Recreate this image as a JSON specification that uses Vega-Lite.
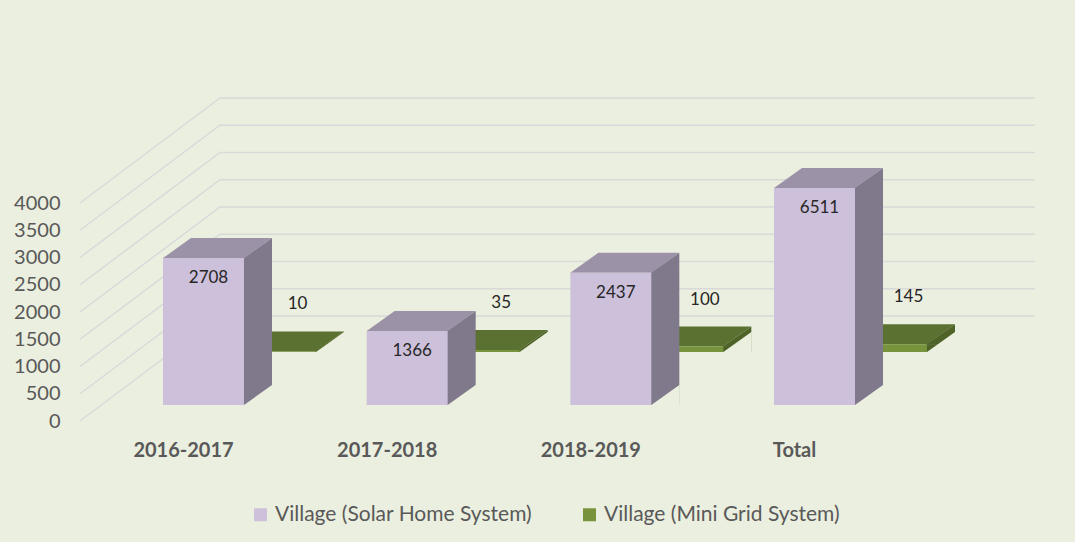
{
  "$schema": "https://vega.github.io/schema/vega-lite/v6.json",
  "width": 1075,
  "height": 542,
  "autosize": "none",
  "padding": 0,
  "background": "#EBEFDF",
  "config": {"view": {"stroke": null}, "font": "Lato"},
  "datasets": {
    "bars": [
      {"period": "2016-2017", "series": "Village (Solar Home System)", "value": 2708},
      {"period": "2017-2018", "series": "Village (Solar Home System)", "value": 1366},
      {"period": "2018-2019", "series": "Village (Solar Home System)", "value": 2437},
      {"period": "Total", "series": "Village (Solar Home System)", "value": 6511},
      {"period": "2016-2017", "series": "Village (Mini Grid System)", "value": 10},
      {"period": "2017-2018", "series": "Village (Mini Grid System)", "value": 35},
      {"period": "2018-2019", "series": "Village (Mini Grid System)", "value": 100},
      {"period": "Total", "series": "Village (Mini Grid System)", "value": 145}
    ],
    "ticks": [
      {"tick": 0}, {"tick": 500}, {"tick": 1000}, {"tick": 1500}, {"tick": 2000},
      {"tick": 2500}, {"tick": 3000}, {"tick": 3500}, {"tick": 4000}
    ]
  },
  "layer": [
    {
      "data": {"name": "ticks"},
      "mark": {"type": "point", "shape": "M-457.5,0L-317.5,-105L497.5,-105", "size": 4, "filled": false, "stroke": "#D9D9D9", "strokeWidth": 1.5, "opacity": 1},
      "encoding": {
        "y": {
          "field": "tick", "type": "quantitative",
          "scale": {"domain": [0, 4000], "range": [421, 203], "nice": false, "zero": false},
          "axis": {
            "values": [0, 500, 1000, 1500, 2000, 2500, 3000, 3500, 4000], "format": "d",
            "orient": "left", "offset": -60, "ticks": false, "tickSize": 0, "domain": false, "grid": false,
            "labelPadding": 0, "labelFont": "Lato", "labelFontSize": 20, "labelColor": "#595959", "title": null
          }
        }
      }
    },
    {
      "data": {"name": "bars"},
      "transform": [{"filter": "datum.series === 'Village (Mini Grid System)'"}],
      "encoding": {
        "x": {
          "field": "period", "type": "nominal",
          "sort": ["2016-2017", "2017-2018", "2018-2019", "Total"],
          "scale": {"type": "band", "paddingInner": 0.6024, "paddingOuter": 0.9403, "align": 0.4256},
          "axis": {
            "orient": "bottom", "offset": -92, "ticks": false, "domain": false, "grid": false, "title": null,
            "labelAngle": 0, "labelPadding": 0, "labelBaseline": "middle", "labelOffset": -20,
            "labelFont": "Lato", "labelFontSize": 20, "labelFontWeight": "bold", "labelColor": "#595959"
          }
        }
      },
      "layer": [
        {
          "mark": {"type": "bar", "width": 29, "xOffset": 126, "color": "#4F6228"},
          "encoding": {"y": {"field": "value", "type": "quantitative", "scale": {"domain": [0, 4000], "range": [352, 135], "nice": false}, "axis": null}}
        },
        {
          "mark": {"type": "point", "shape": "M111.5,0.3L140.5,-20L140.5,0.3Z", "size": 4, "filled": true, "opacity": 1, "strokeWidth": 0, "color": "#4F6228"},
          "encoding": {"y": {"field": "value", "type": "quantitative", "scale": {"domain": [0, 4000], "range": [352, 135], "nice": false}, "axis": null}}
        },
        {
          "mark": {"type": "point", "shape": "M112.5,0L140.5,-20L140.8,-20L140.8,1.5L112.5,1.5Z", "size": 4, "filled": true, "opacity": 1, "strokeWidth": 0, "color": "#EBEFDF"},
          "encoding": {"y": {"datum": 0, "type": "quantitative", "scale": {"domain": [0, 4000], "range": [352, 135], "nice": false}, "axis": null}}
        },
        {
          "mark": {"type": "point", "shape": "M31.5,0L112.5,0L140.5,-20L59.5,-20Z", "size": 4, "filled": true, "opacity": 1, "strokeWidth": 0, "color": "#5B7132"},
          "encoding": {"y": {"field": "value", "type": "quantitative", "scale": {"domain": [0, 4000], "range": [352, 135], "nice": false}, "axis": null}}
        },
        {
          "mark": {"type": "bar", "xOffset": 72},
          "encoding": {
            "y": {"field": "value", "type": "quantitative", "scale": {"domain": [0, 4000], "range": [352, 135], "nice": false}, "axis": null},
            "color": {
              "field": "series", "type": "nominal",
              "scale": {"domain": ["Village (Solar Home System)", "Village (Mini Grid System)"], "range": ["#CCC0DA", "#77933C"]},
              "legend": {
                "orient": "none", "legendX": 250, "legendY": 504, "direction": "horizontal", "columns": 2,
                "title": null, "padding": 0, "symbolType": "square", "symbolSize": 169, "symbolStrokeWidth": 0,
                "labelFont": "Lato", "labelFontSize": 21, "labelColor": "#595959", "labelOffset": 4, "columnPadding": 46, "labelLimit": 0
              }
            }
          }
        },
        {
          "mark": {"type": "text", "dx": 94, "dy": -47, "fontSize": 17, "font": "Lato", "color": "#262626", "baseline": "middle"},
          "encoding": {
            "y": {"field": "value", "type": "quantitative", "scale": {"domain": [0, 4000], "range": [352, 135], "nice": false}, "axis": null},
            "text": {"field": "value", "type": "quantitative", "format": "d"}
          }
        }
      ]
    },
    {
      "data": {"name": "bars"},
      "transform": [{"filter": "datum.series === 'Village (Solar Home System)'"}],
      "encoding": {
        "x": {
          "field": "period", "type": "nominal",
          "sort": ["2016-2017", "2017-2018", "2018-2019", "Total"],
          "scale": {"type": "band", "paddingInner": 0.6024, "paddingOuter": 0.9403, "align": 0.4256},
          "axis": {
            "orient": "bottom", "offset": -92, "ticks": false, "domain": false, "grid": false, "title": null,
            "labelAngle": 0, "labelPadding": 0, "labelBaseline": "middle", "labelOffset": -20,
            "labelFont": "Lato", "labelFontSize": 20, "labelFontWeight": "bold", "labelColor": "#595959"
          }
        }
      },
      "layer": [
        {
          "mark": {"type": "bar", "width": 29, "xOffset": 54, "color": "#7F798B"},
          "encoding": {"y": {"field": "value", "type": "quantitative", "scale": {"domain": [0, 4000], "range": [405, 188], "nice": false, "clamp": true}, "axis": null}}
        },
        {
          "mark": {"type": "point", "shape": "M39.5,0.3L68.5,-20L68.5,0.3Z", "size": 4, "filled": true, "opacity": 1, "strokeWidth": 0, "color": "#7F798B"},
          "encoding": {"y": {"field": "value", "type": "quantitative", "scale": {"domain": [0, 4000], "range": [405, 188], "nice": false, "clamp": true}, "axis": null}}
        },
        {
          "mark": {"type": "point", "shape": "M40.5,0L68.5,-20L68.8,-20L68.8,1.5L40.5,1.5Z", "size": 4, "filled": true, "opacity": 1, "strokeWidth": 0, "color": "#EBEFDF"},
          "encoding": {"y": {"datum": 0, "type": "quantitative", "scale": {"domain": [0, 4000], "range": [405, 188], "nice": false, "clamp": true}, "axis": null}}
        },
        {
          "mark": {"type": "point", "shape": "M-40.5,0L40.5,0L68.5,-20L-12.5,-20Z", "size": 4, "filled": true, "opacity": 1, "strokeWidth": 0, "color": "#9C92A7"},
          "encoding": {"y": {"field": "value", "type": "quantitative", "scale": {"domain": [0, 4000], "range": [405, 188], "nice": false, "clamp": true}, "axis": null}}
        },
        {
          "mark": {"type": "bar"},
          "encoding": {
            "y": {"field": "value", "type": "quantitative", "scale": {"domain": [0, 4000], "range": [405, 188], "nice": false, "clamp": true}, "axis": null},
            "color": {
              "field": "series", "type": "nominal",
              "scale": {"domain": ["Village (Solar Home System)", "Village (Mini Grid System)"], "range": ["#CCC0DA", "#77933C"]},
              "legend": {
                "orient": "none", "legendX": 250, "legendY": 504, "direction": "horizontal", "columns": 2,
                "title": null, "padding": 0, "symbolType": "square", "symbolSize": 169, "symbolStrokeWidth": 0,
                "labelFont": "Lato", "labelFontSize": 21, "labelColor": "#595959", "labelOffset": 4, "columnPadding": 46, "labelLimit": 0
              }
            }
          }
        },
        {
          "mark": {"type": "text", "dx": 5, "dy": 20, "fontSize": 17, "font": "Lato", "color": "#262626", "baseline": "middle"},
          "encoding": {
            "y": {"field": "value", "type": "quantitative", "scale": {"domain": [0, 4000], "range": [405, 188], "nice": false, "clamp": true}, "axis": null},
            "text": {"field": "value", "type": "quantitative", "format": "d"}
          }
        }
      ]
    }
  ],
  "resolve": {"scale": {"y": "independent"}}
}
